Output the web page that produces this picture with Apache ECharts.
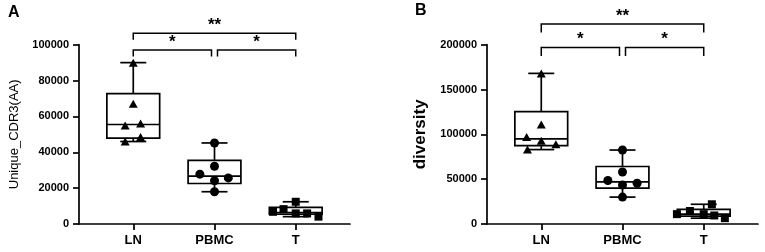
<!DOCTYPE html>
<html>
<head>
<meta charset="utf-8">
<script src="https://cdn.jsdelivr.net/npm/echarts@6/dist/echarts.min.js"></script>
<style>html,body{margin:0;padding:0;background:#fff}#c{width:765px;height:252px}</style>
</head>
<body>
<div id="c"></div>
<script>
// ---------- data ----------
const categories = ['LN', 'PBMC', 'T'];
// Panel A: Unique_CDR3(AA)
const uniqueLN   = [90000, 67000, 55000, 56000, 46000, 48500];
const uniquePBMC = [45200, 32200, 27800, 25700, 24100, 18000];
const uniqueT    = [12400, 8300, 6800, 5900, 5900, 4100];
// Panel B: diversity
const diversityLN   = [168000, 111000, 97000, 93000, 89000, 83000];
const diversityPBMC = [82500, 58000, 48500, 45500, 43500, 30000];
const diversityT    = [22000, 14500, 11000, 11000, 9500, 6500];
// y-axis ticks
const ticksA = [0, 20000, 40000, 60000, 80000, 100000];
const ticksB = [0, 50000, 100000, 150000, 200000];
// significance comparisons [from, to, label]
const comparisons = [[0, 1, '*'], [1, 2, '*'], [0, 2, '**']];

// ---------- layout / style ----------
const FONT = 'Liberation Sans, Arial, Helvetica, sans-serif';
const JIT = {
  A: [[0, 0, -0.1, 0.09, -0.1, 0.09], [0, 0, -0.18, 0.17, 0, 0], [0, -0.15, -0.28, 0, 0.14, 0.28]],
  B: [[0, 0, -0.18, 0, 0.18, -0.17], [0, 0, -0.18, 0.18, 0, 0], [0.1, -0.17, -0.33, 0, 0.13, 0.26]]
};
const SYMBOLS = ['triangle', 'circle', 'rect'];
const SYM_SIZE = [[9, 8], 9, 8];
const BOX_W = 0.65, CAP_W = 0.32;
// bracket levels (data units): [lower, upper]
const BRACKET_LEVEL = { A: [97000, 106400], B: [197000, 223000] };

function quartiles(arr) {
  const s = [...arr].sort((a, b) => a - b), n = s.length;
  const pct = p => {
    const pos = (n + 1) * p, lo = Math.floor(pos), f = pos - lo;
    if (lo < 1) return s[0];
    if (lo >= n) return s[n - 1];
    return s[lo - 1] + f * (s[lo] - s[lo - 1]);
  };
  return [s[0], pct(0.25), pct(0.5), pct(0.75), s[n - 1]];
}

const LW = 1.7;
function boxRender(params, api) {
  const x = api.value(0);
  const mn = api.value(1), q1 = api.value(2), md = api.value(3), q3 = api.value(4), mx = api.value(5);
  const c = (a, b) => api.coord([a, b]);
  const [xl, y3] = c(x - BOX_W / 2, q3);
  const [xr, y1] = c(x + BOX_W / 2, q1);
  const [xc, ymx] = c(x, mx);
  const ymn = c(x, mn)[1], ymd = c(x, md)[1];
  const cl = c(x - CAP_W / 2, 0)[0], cr = c(x + CAP_W / 2, 0)[0];
  const st = { stroke: '#000', lineWidth: LW };
  const L = (x1, y1_, x2, y2) => ({ type: 'line', shape: { x1, y1: y1_, x2, y2 }, style: st });
  return {
    type: 'group', children: [
      { type: 'rect', shape: { x: xl, y: y3, width: xr - xl, height: y1 - y3 }, style: { stroke: '#000', lineWidth: LW, fill: '#fff' } },
      L(xl, ymd, xr, ymd),
      L(xc, y3, xc, ymx), L(cl, ymx, cr, ymx),
      L(xc, y1, xc, ymn), L(cl, ymn, cr, ymn)
    ]
  };
}

function bracketRender(levels, drop, gap) {
  return function (params, api) {
    const a = api.value(0), b = api.value(1);
    const top = (b - a) > 1;
    const lvl = top ? levels[1] : levels[0];
    let [x1, y] = api.coord([a, lvl]);
    let x2 = api.coord([b, lvl])[0];
    if (!top) { if (a === 1) x1 += gap; if (b === 1) x2 -= gap; }
    const label = comparisons[params.dataIndex][2];
    const st = { stroke: '#000', lineWidth: 1.5, fill: null };
    return {
      type: 'group', children: [
        { type: 'polyline', shape: { points: [[x1, y + drop], [x1, y], [x2, y], [x2, y + drop]] }, style: st },
        { type: 'text', style: { text: label, x: (x1 + x2) / 2, y: y + 0.5, align: 'center', verticalAlign: 'bottom', font: 'bold 17px ' + FONT, fill: '#000' } }
      ]
    };
  };
}

function panelSeries(key, idx, groups) {
  const s = [];
  s.push({
    type: 'custom', xAxisIndex: idx, yAxisIndex: idx, z: 2,
    renderItem: boxRender,
    data: groups.map((g, i) => [i, ...quartiles(g)])
  });
  groups.forEach((g, i) => {
    s.push({
      type: 'scatter', xAxisIndex: idx, yAxisIndex: idx, z: 5,
      symbol: SYMBOLS[i], symbolSize: SYM_SIZE[i],
      itemStyle: { color: '#000', opacity: 1 },
      data: g.map((v, j) => [i + JIT[key][i][j], v]),
      silent: true
    });
  });
  s.push({
    type: 'custom', xAxisIndex: idx, yAxisIndex: idx, z: 6, clip: false,
    renderItem: bracketRender(BRACKET_LEVEL[key], key === 'A' ? 6.5 : 8.5, 3),
    data: comparisons.map(c => [c[0], c[1]])
  });
  return s;
}

function xAxis(gi) {
  return {
    type: 'value', gridIndex: gi, min: -0.668, max: 2.668,
    splitLine: { show: false },
    axisLine: { show: true, onZero: false, lineStyle: { color: '#000', width: LW } },
    axisTick: { show: true, customValues: [0, 1, 2], length: 6, lineStyle: { color: '#000', width: LW } },
    axisLabel: { customValues: [0, 1, 2], formatter: v => categories[Math.round(v)], color: '#000', fontWeight: 'bold', fontSize: 13, fontFamily: FONT, margin: 10 }
  };
}
function yAxis(gi, ticks, name, nameFont, nameWeight, nameGap) {
  return {
    type: 'value', gridIndex: gi, min: ticks[0], max: ticks[ticks.length - 1], interval: ticks[1] - ticks[0],
    name: name, nameLocation: 'middle', nameGap: nameGap,
    nameTextStyle: { color: '#000', fontSize: nameFont, fontWeight: nameWeight, fontFamily: FONT },
    splitLine: { show: false },
    axisLine: { show: true, onZero: false, lineStyle: { color: '#000', width: LW } },
    axisTick: { show: true, length: 6, lineStyle: { color: '#000', width: LW } },
    axisLabel: { color: '#000', fontWeight: 'bold', fontSize: 11, fontFamily: FONT, margin: 10, formatter: v => String(v) }
  };
}

const chart = echarts.init(document.getElementById('c'), null, { renderer: 'canvas' });
chart.setOption({
  animation: false,
  backgroundColor: '#fff',
  title: [
    { text: 'A', left: 3, top: 0, textStyle: { fontSize: 16, fontWeight: 'bold', color: '#000', fontFamily: FONT } },
    { text: 'B', left: 410, top: -2, textStyle: { fontSize: 16, fontWeight: 'bold', color: '#000', fontFamily: FONT } }
  ],
  grid: [
    { left: 79, top: 44.7, width: 271, height: 179.3 },
    { left: 487, top: 44.7, width: 271, height: 179.3 }
  ],
  xAxis: [xAxis(0), xAxis(1)],
  yAxis: [
    yAxis(0, ticksA, 'Unique_CDR3(AA)', 13, 'normal', 58),
    yAxis(1, ticksB, 'diversity', 17, 'bold', 58)
  ],
  series: [
    ...panelSeries('A', 0, [uniqueLN, uniquePBMC, uniqueT]),
    ...panelSeries('B', 1, [diversityLN, diversityPBMC, diversityT])
  ]
});
</script>
</body>
</html>
